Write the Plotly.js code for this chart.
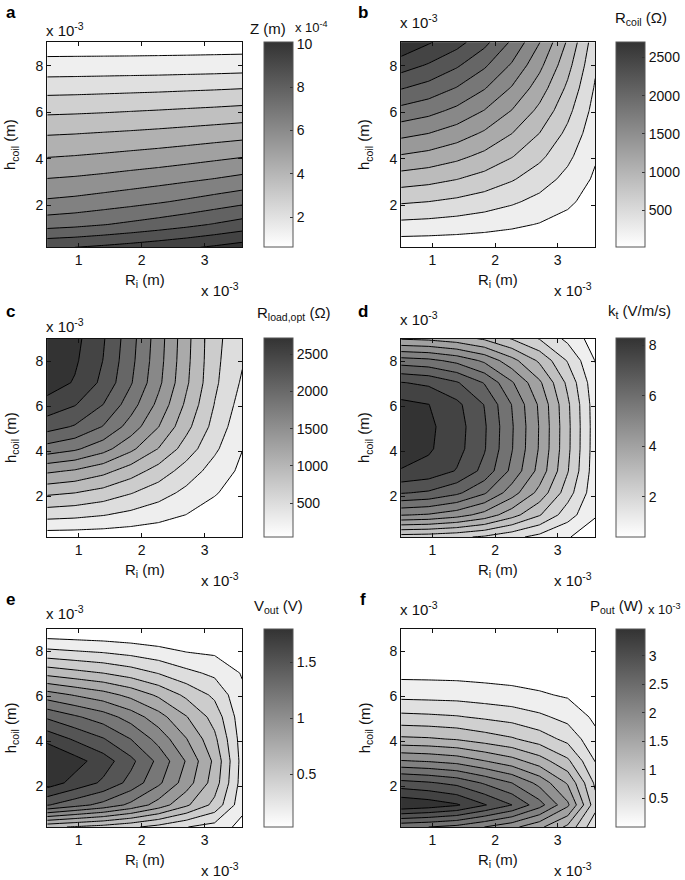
<!DOCTYPE html>
<html>
<head>
<meta charset="utf-8">
<script src="https://cdn.plot.ly/plotly-3.0.1.min.js"></script>
<style>
  html, body { margin: 0; padding: 0; background: #fff; }
  #plot { width: 685px; height: 880px; }
</style>
</head>
<body>
<div id="plot"></div>
<script>
// grid nodes, both in units of 1e-3 m
const ri = [0.5, 0.94, 1.39, 1.83, 2.27, 2.71, 3.16, 3.6];
const hCoil = [0.2, 1.18, 2.16, 3.13, 4.11, 5.09, 6.07, 7.04, 8.02, 9.0];

// (a) Z (m), x 10^-4 -- one row per hCoil value
const zDisp = [
  [8.61, 8.70, 8.83, 8.97, 9.13, 9.30, 9.50, 9.71],
  [7.02, 7.12, 7.27, 7.44, 7.62, 7.82, 8.05, 8.29],
  [6.00, 6.09, 6.23, 6.37, 6.53, 6.71, 6.92, 7.13],
  [5.22, 5.29, 5.39, 5.51, 5.63, 5.77, 5.92, 6.09],
  [4.46, 4.52, 4.60, 4.69, 4.78, 4.89, 5.02, 5.15],
  [3.74, 3.78, 3.84, 3.90, 3.97, 4.05, 4.14, 4.23],
  [2.95, 2.98, 3.02, 3.07, 3.12, 3.18, 3.24, 3.31],
  [2.13, 2.15, 2.18, 2.21, 2.24, 2.28, 2.32, 2.37],
  [1.24, 1.25, 1.26, 1.27, 1.28, 1.30, 1.32, 1.35],
  [0.60, 0.60, 0.60, 0.60, 0.61, 0.61, 0.62, 0.62]
];

// (b) R_coil (ohm)
const rCoil = [
  [72, 69, 64, 58, 49, 39, 27, 14],
  [364, 349, 325, 292, 250, 199, 138, 68],
  [657, 630, 586, 527, 451, 359, 248, 123],
  [947, 909, 845, 760, 650, 518, 358, 178],
  [1240, 1190, 1107, 994, 852, 678, 469, 233],
  [1532, 1470, 1367, 1229, 1052, 838, 579, 288],
  [1825, 1751, 1629, 1464, 1253, 998, 690, 343],
  [2115, 2020, 1880, 1696, 1452, 1156, 799, 397],
  [2408, 2290, 2130, 1925, 1654, 1316, 910, 452],
  [2700, 2540, 2390, 2160, 1854, 1476, 1020, 507]
];

// (c) R_load,opt (ohm)
const rLoad = [
  [89, 86, 80, 72, 62, 52, 44, 40],
  [500, 476, 430, 363, 289, 207, 128, 70],
  [885, 842, 760, 643, 512, 366, 226, 118],
  [1301, 1237, 1118, 945, 752, 537, 332, 165],
  [1803, 1715, 1549, 1309, 1042, 745, 460, 215],
  [2187, 2080, 1879, 1588, 1264, 903, 558, 270],
  [2443, 2323, 2099, 1774, 1412, 1009, 623, 330],
  [2630, 2501, 2259, 1909, 1520, 1086, 671, 390],
  [2685, 2553, 2306, 1949, 1552, 1109, 685, 440],
  [2715, 2582, 2332, 1971, 1569, 1121, 692, 480]
];

// (d) k_t (V/m/s)
const kT = [
  [2.30, 2.25, 2.12, 1.91, 1.57, 1.21, 0.85, 0.42],
  [5.04, 4.94, 4.66, 4.18, 3.44, 2.65, 1.67, 0.86],
  [6.85, 6.71, 6.33, 5.68, 4.68, 3.60, 2.27, 1.00],
  [7.97, 7.80, 7.36, 6.61, 5.44, 4.19, 2.64, 1.06],
  [8.25, 8.08, 7.62, 6.85, 5.63, 4.34, 2.74, 1.09],
  [8.29, 8.12, 7.66, 6.88, 5.66, 4.36, 2.75, 1.10],
  [8.17, 8.01, 7.55, 6.78, 5.58, 4.30, 2.71, 1.08],
  [7.43, 7.28, 6.86, 6.16, 5.07, 3.91, 2.46, 0.99],
  [5.88, 5.76, 5.43, 4.88, 4.01, 3.09, 1.95, 0.78],
  [3.73, 3.65, 3.45, 3.10, 2.55, 1.96, 1.24, 0.50]
];

// (e) V_out (V)
const vOut = [
  [0.62, 0.578, 0.538, 0.483, 0.415, 0.334, 0.279, 0.156],
  [1.38, 1.289, 1.20, 1.078, 0.924, 0.744, 0.551, 0.242],
  [1.70, 1.586, 1.477, 1.326, 1.137, 0.916, 0.657, 0.271],
  [1.80, 1.68, 1.565, 1.405, 1.205, 0.97, 0.69, 0.28],
  [1.588, 1.482, 1.380, 1.239, 1.063, 0.856, 0.620, 0.268],
  [1.35, 1.26, 1.174, 1.054, 0.904, 0.728, 0.540, 0.25],
  [1.04, 0.971, 0.905, 0.812, 0.696, 0.561, 0.433, 0.225],
  [0.678, 0.633, 0.590, 0.530, 0.454, 0.366, 0.301, 0.19],
  [0.356, 0.333, 0.310, 0.278, 0.239, 0.192, 0.174, 0.13],
  [0.08, 0.074, 0.069, 0.062, 0.053, 0.043, 0.048, 0.05]
];

// (f) P_out (W), x 10^-3
const pOut = [
  [2.30, 2.25, 2.17, 2.00, 1.82, 1.56, 1.19, 0.56],
  [3.47, 3.40, 3.28, 3.02, 2.75, 2.35, 1.80, 0.85],
  [2.84, 2.78, 2.68, 2.47, 2.25, 1.92, 1.47, 0.70],
  [2.02, 1.98, 1.91, 1.76, 1.60, 1.37, 1.05, 0.49],
  [1.30, 1.28, 1.23, 1.13, 1.03, 0.88, 0.675, 0.32],
  [0.82, 0.80, 0.77, 0.71, 0.65, 0.55, 0.42, 0.20],
  [0.42, 0.41, 0.40, 0.365, 0.33, 0.28, 0.22, 0.10],
  [0.18, 0.177, 0.17, 0.157, 0.143, 0.122, 0.094, 0.044],
  [0.08, 0.078, 0.075, 0.069, 0.063, 0.054, 0.041, 0.02],
  [0.02, 0.02, 0.02, 0.018, 0.017, 0.014, 0.011, 0.005]
];

// contour levels [start, end, step] and colour-bar ranges / ticks
const levels = [[1.0, 9.4, 0.7], [210, 2520, 210], [210, 2520, 210], [0.8, 8.0, 0.6], [0.2, 1.63, 0.13], [0.25, 3.25, 0.25]];
const cRange = [[0.6, 10.08], [15, 2700], [40, 2715], [0.39, 8.29], [0.03, 1.8], [0, 3.47]];
const cTicks = [[2, 4, 6, 8, 10], [500, 1000, 1500, 2000, 2500], [500, 1000, 1500, 2000, 2500], [2, 4, 6, 8], [0.5, 1, 1.5], [0.5, 1, 1.5, 2, 2.5, 3]];
const letters = ["a", "b", "c", "d", "e", "f"];
const cbTitles = ["Z (m)", "R<sub>coil</sub> (Ω)", "R<sub>load,opt</sub> (Ω)", "k<sub>t</sub> (V/m/s)", "V<sub>out</sub> (V)", "P<sub>out</sub> (W)"];
const grids = [zDisp, rCoil, rLoad, kT, vOut, pOut];

const W = 685, H = 880;
const FONT = "Liberation Sans, Arial, Helvetica, sans-serif";
const gray = [[0, "#ffffff"], [1, "#333333"]];

// pixel boxes of the plot areas: [left, top, right, bottom], and colour bar left edge
const boxes = [
  [47.3, 42.3, 243, 247.3], [402.3, 42.3, 597, 247.3],
  [47.3, 338.5, 243, 537], [402.3, 338.5, 597, 537],
  [47.3, 629, 243, 827], [402.3, 629, 597, 827]
];
const cbLeft = [265, 618.3, 265, 618.3, 265, 618.3];
// label positions (pixels): letter, exponent above, colour bar title
const letterPos = [[11, 13], [364, 12], [11, 311], [364, 311], [11, 599], [364, 599]];
const topExpPos = [[65, 29], [420, 21], [65, 325], [420, 318], [65, 612], [420, 608]];
const cbTitlePos = [[269, 28], [643, 18], [295, 313], [641, 312], [279, 606], [618, 606]];

const px = v => v / W;
const py = v => 1 - v / H;

let traces = [];
let layout = {
    width: W, height: H,
    margin: { l: 0, r: 0, t: 0, b: 0 },
    paper_bgcolor: "#fff", plot_bgcolor: "#fff",
    showlegend: false,
    font: { family: FONT, size: 14, color: "#111" },
    annotations: []
};

function note(x, y, text, extra) {
    layout.annotations.push(Object.assign({
        x: px(x), y: py(y), xref: "paper", yref: "paper",
        text: text, showarrow: false, xanchor: "center", yanchor: "middle",
        font: { family: FONT, size: 15, color: "#111" }
    }, extra || {}));
}

grids.forEach((z, i) => {
    let n = i === 0 ? "" : String(i + 1);
    let [x0, y0, x1, y1] = boxes[i];
    let axisBase = {
        showline: true, linecolor: "#111", linewidth: 1, mirror: "ticks",
        ticks: "inside", ticklen: 4, tickcolor: "#111",
        showgrid: false, zeroline: false,
        tickfont: { family: FONT, size: 14, color: "#111" }
    };
    layout["xaxis" + n] = Object.assign({}, axisBase, {
        domain: [px(x0), px(x1)], anchor: "y" + n,
        range: [0.5, 3.6], tickvals: [1, 2, 3]
    });
    layout["yaxis" + n] = Object.assign({}, axisBase, {
        domain: [py(y1), py(y0)], anchor: "x" + n,
        range: [0.2, 9.0], tickvals: [2, 4, 6, 8]
    });

    // heatmap underneath only gives the continuous colour bar
    traces.push({
        type: "heatmap", x: ri, y: hCoil, z: z,
        xaxis: "x" + n, yaxis: "y" + n,
        colorscale: gray, zmin: cRange[i][0], zmax: cRange[i][1],
        hoverinfo: "skip",
        colorbar: {
            x: px(cbLeft[i]), xanchor: "left", xpad: 0, ypad: 0,
            y: py((y0 + y1) / 2), yanchor: "middle",
            len: (y1 - y0) / H, lenmode: "fraction",
            thickness: 29, thicknessmode: "pixels",
            outlinewidth: 1, outlinecolor: "#555",
            ticks: "inside", ticklen: 3, tickcolor: "#333",
            tickvals: cTicks[i],
            tickfont: { family: FONT, size: 14, color: "#111" }
        }
    });
    traces.push({
        type: "contour", x: ri, y: hCoil, z: z,
        xaxis: "x" + n, yaxis: "y" + n,
        colorscale: gray, showscale: false, autocontour: false,
        contours: { coloring: "fill", start: levels[i][0], end: levels[i][1], size: levels[i][2], showlines: true },
        line: { color: "#000", width: 1, smoothing: 0 },
        hoverinfo: "skip"
    });

    note(letterPos[i][0], letterPos[i][1], "<b>" + letters[i] + "</b>", { font: { family: FONT, size: 17, color: "#000" } });
    note(topExpPos[i][0], topExpPos[i][1], "x 10<sup>-3</sup>");
    note((x0 + x1) / 2, y1 + 33, "R<sub>i</sub> (m)");
    note(x1 - 22, y1 + 42, "x 10<sup>-3</sup>");
    note(x0 - 36, (y0 + y1) / 2, "h<sub>coil</sub> (m)", { textangle: -90 });
    note(cbTitlePos[i][0], cbTitlePos[i][1], cbTitles[i]);
});

// exponents of the colour bars of a and f
note(312, 27, "x 10<sup>-4</sup>", { font: { family: FONT, size: 13, color: "#111" } });
note(666, 609, "x 10<sup>-3</sup>", { font: { family: FONT, size: 13, color: "#111" } });

Plotly.newPlot("plot", traces, layout, { staticPlot: true });
</script>
</body>
</html>
